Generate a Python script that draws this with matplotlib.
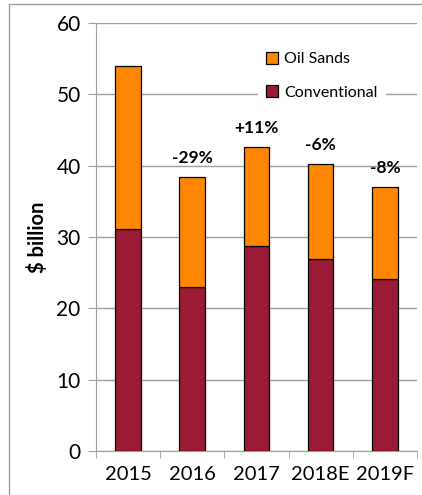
import numpy as np
import matplotlib.pyplot as plt

years = ['2015', '2016', '2017', '2018E', '2019F']
conventional = [31.1, 23.0, 28.7, 26.9, 24.1]
oil_sands = [22.9, 15.4, 13.9, 13.3, 12.9]
changes = ['', '-29%', '+11%', '-6%', '-8%']

plt.rcParams['font.family'] = ['Lato', 'DejaVu Sans']

fig = plt.figure(figsize=(4.22, 4.95), dpi=100)
ax = fig.add_axes([0.2275, 0.0889, 0.7605, 0.8646])

x = np.arange(len(years))
totals = np.array(conventional) + np.array(oil_sands)
ax.bar(x, conventional, width=0.4, color='#9b1b36', edgecolor='black', linewidth=0.9,
       label='Conventional', zorder=3)
ax.bar(x, oil_sands, width=0.4, bottom=conventional, color='#ff8600', edgecolor='black',
       linewidth=0.9, label='Oil Sands', zorder=3)

for xi, t, lab in zip(x, totals, changes):
    if lab:
        ax.annotate(lab, (xi, t), xytext=(0, 8), textcoords='offset points',
                    ha='center', va='bottom', fontsize=12.5, fontweight='bold')

ax.set_xlim(-0.5, len(years) - 0.5)
ax.set_ylim(0, 60)
ax.set_yticks(range(0, 61, 10))
ax.set_xticks(x)
ax.set_xticklabels(years)
ax.set_xticks(np.arange(-0.5, len(years)), minor=True)
ax.tick_params(axis='x', which='major', length=0, labelsize=14.5, pad=11)
ax.tick_params(axis='x', which='minor', length=5, color='#a0a0a0', direction='out')
ax.tick_params(axis='y', length=6, color='#a0a0a0', labelsize=15, pad=5)
ax.yaxis.grid(True, color='#a0a0a0', linewidth=1)
ax.set_axisbelow(True)
for side in ['top', 'right']:
    ax.spines[side].set_visible(False)
for side in ['left', 'bottom']:
    ax.spines[side].set_color('#a0a0a0')
ax.set_ylabel('$ billion', fontsize=14.5, fontweight='bold', labelpad=6)

handles, labels = ax.get_legend_handles_labels()
leg = ax.legend(handles[::-1], labels[::-1], loc='upper left', bbox_to_anchor=(0.48, 0.97),
                frameon=True, fontsize=11.5, labelspacing=1.2, handlelength=0.75,
                handleheight=0.75, handletextpad=0.4, borderpad=0.5)
leg.get_frame().set_edgecolor('none')
leg.get_frame().set_facecolor('white')
leg.get_frame().set_alpha(1)

# thin outer frame on the left and top
fig.add_artist(plt.Line2D([9 / 422, 9 / 422], [0, 1 - 4 / 495], color='#a0a0a0', linewidth=1))
fig.add_artist(plt.Line2D([9 / 422, 1], [1 - 4 / 495, 1 - 4 / 495], color='#a0a0a0', linewidth=1))

fig.savefig('out.png', dpi=100)
